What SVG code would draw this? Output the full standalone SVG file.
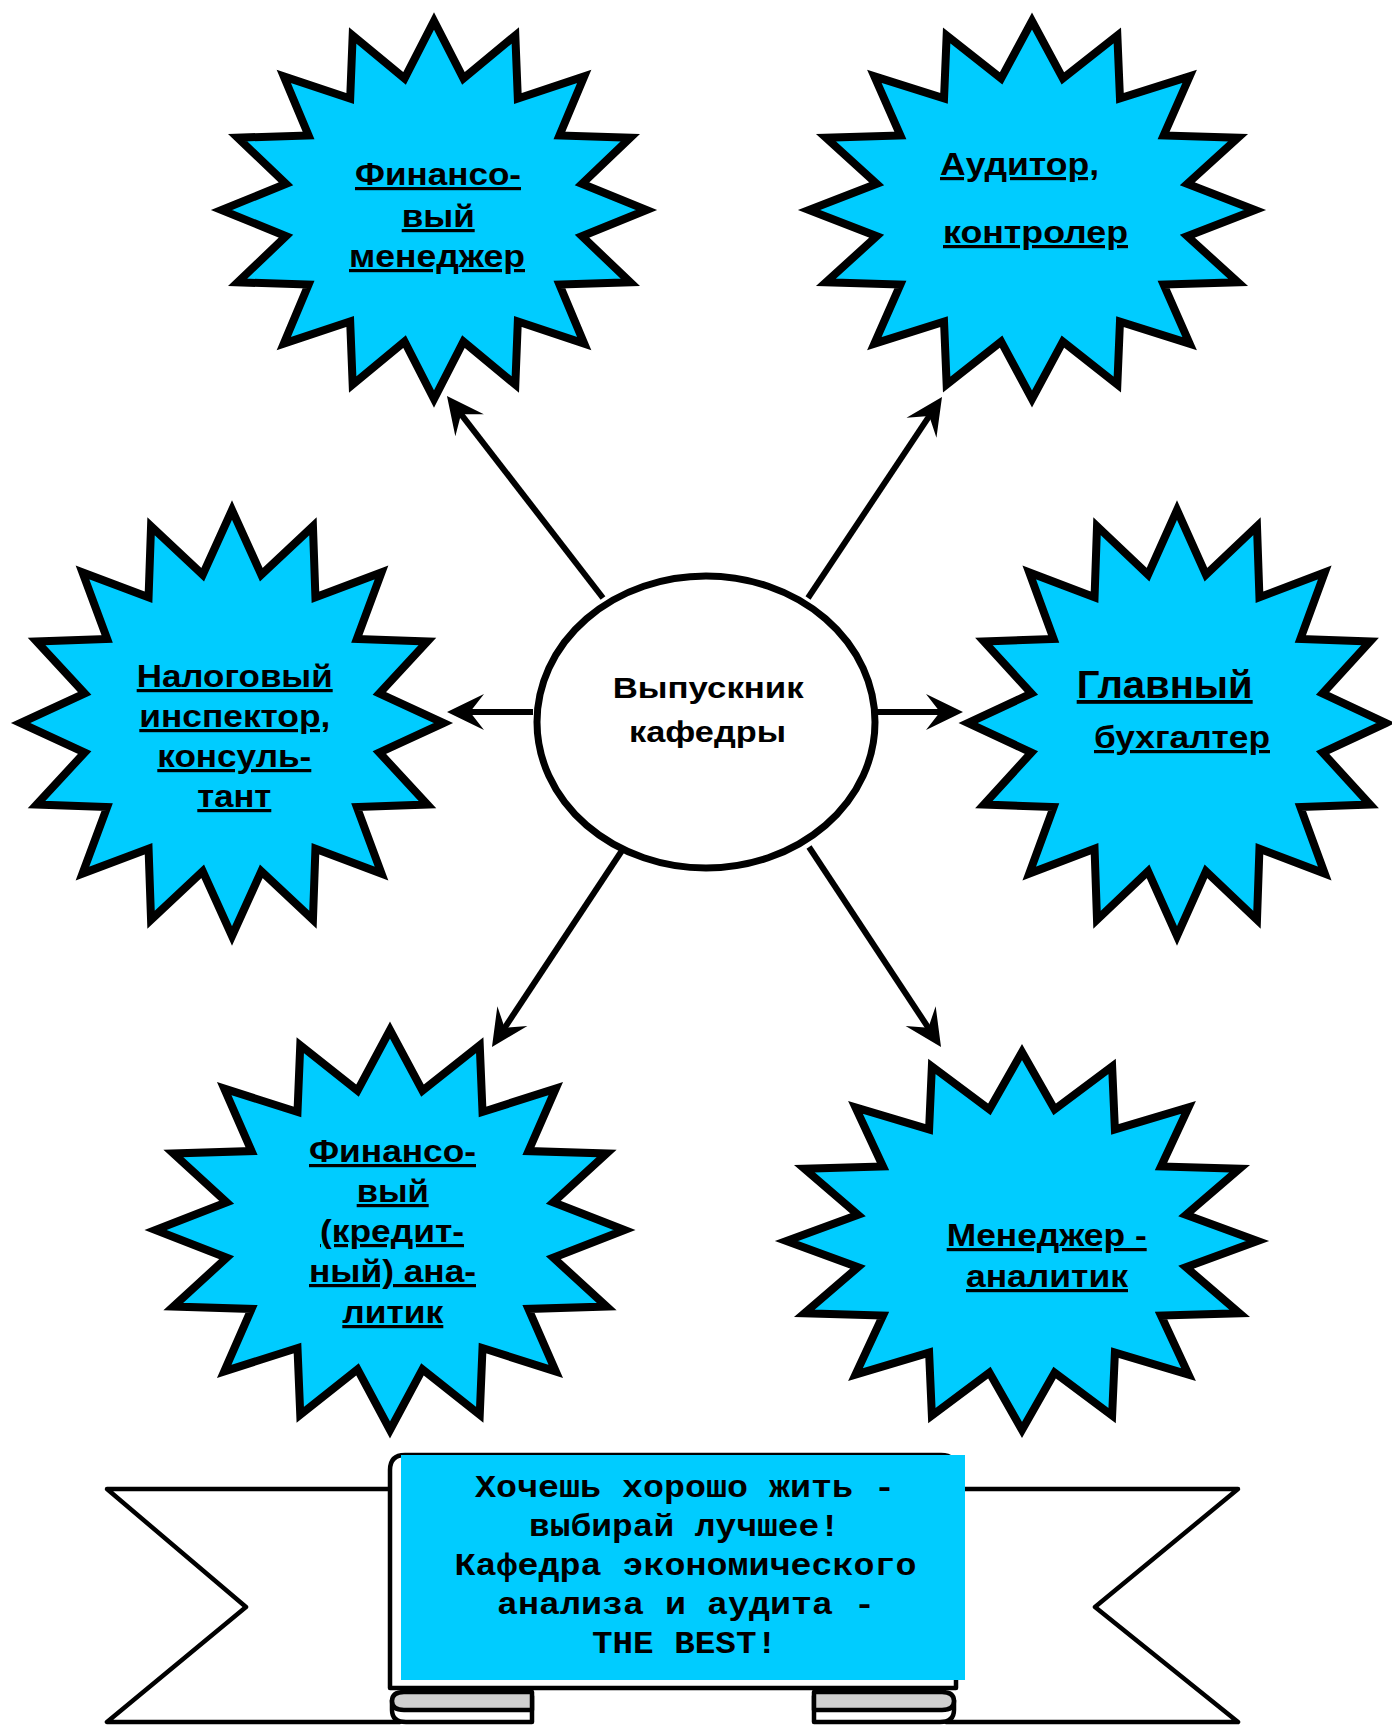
<svg xmlns="http://www.w3.org/2000/svg" xmlns:xlink="http://www.w3.org/1999/xlink" width="1392" height="1726" viewBox="0 0 1392 1726">
  <style>
    .star { fill: #00CCFF; stroke: #000; stroke-width: 8; stroke-linejoin: miter; stroke-miterlimit: 10; vector-effect: non-scaling-stroke; }
    .lbl { font-family: "Liberation Sans", Arial, sans-serif; font-weight: bold; font-size: 32px; fill: #000; text-decoration: underline; text-decoration-thickness: 3px; }
    .big { font-size: 38px; }
    .hub { fill: #fff; stroke: #000; stroke-width: 7; }
    .hubtxt { font-family: "Liberation Sans", Arial, sans-serif; font-weight: bold; font-size: 30px; fill: #000; }
    .conn { fill: none; stroke: #000; stroke-width: 6; marker-end: url(#head); }
    .rb { fill: #fff; stroke: #000; stroke-width: 4.5; stroke-linejoin: round; stroke-linecap: round; }
    .fold { fill: #d0d0d0; stroke: #000; stroke-width: 4.5; stroke-linejoin: round; }
    .motto { font-family: "Liberation Mono", "Courier New", monospace; font-weight: bold; font-size: 32px; fill: #000; }
  </style>
  <defs>
    <!-- 16-point burst on a unit ellipse; each node scales it to its own radii -->
    <polygon id="burst" class="star" points="1,0 0.6964,0.1385 0.9239,0.3827 0.5903,0.3945 0.7071,0.7071 0.3945,0.5903 0.3827,0.9239 0.1385,0.6964 0,1 -0.1385,0.6964 -0.3827,0.9239 -0.3945,0.5903 -0.7071,0.7071 -0.5903,0.3945 -0.9239,0.3827 -0.6964,0.1385 -1,0 -0.6964,-0.1385 -0.9239,-0.3827 -0.5903,-0.3945 -0.7071,-0.7071 -0.3945,-0.5903 -0.3827,-0.9239 -0.1385,-0.6964 0,-1 0.1385,-0.6964 0.3827,-0.9239 0.3945,-0.5903 0.7071,-0.7071 0.5903,-0.3945 0.9239,-0.3827 0.6964,-0.1385"/>
    <!-- barbed arrowhead, tip 20px beyond the line end -->
    <marker id="head" markerUnits="userSpaceOnUse" orient="auto" refX="0" refY="0" markerWidth="1" markerHeight="1" overflow="visible">
      <path d="M20,0 L-17,-18 L-3,0 L-17,18 Z" fill="#000"/>
    </marker>
    <!-- rolled fold under the left edge of the banner panel -->
    <g id="curl">
      <path class="rb" d="M392,1700 L392,1710 Q392,1722 406,1722 L532,1722 L532,1696"/>
      <path class="fold" d="M532,1692 L404,1692 Q392,1692 392,1701 Q392,1710 404,1710 L532,1710 Z"/>
    </g>
  </defs>

  <!-- connectors from the hub to the six roles -->
  <g id="connectors">
    <line class="conn" x1="603" y1="598" x2="459.2" y2="411.8"/>
    <line class="conn" x1="808" y1="598" x2="930.9" y2="413.6"/>
    <line class="conn" x1="533" y1="712" x2="467" y2="712"/>
    <line class="conn" x1="877" y1="712" x2="943" y2="712"/>
    <line class="conn" x1="623" y1="849" x2="503" y2="1030.3"/>
    <line class="conn" x1="809" y1="847" x2="930" y2="1030.3"/>
  </g>

  <g id="hub">
    <ellipse class="hub" cx="706" cy="722" rx="169" ry="146"/>
    <text class="hubtxt" x="612.7" y="698" textLength="191" lengthAdjust="spacingAndGlyphs">Выпускник</text>
    <text class="hubtxt" x="629" y="742" textLength="157" lengthAdjust="spacingAndGlyphs">кафедры</text>
  </g>

  <g id="financial-manager">
    <use xlink:href="#burst" href="#burst" transform="translate(434 210) scale(212.5 189)"/>
    <text class="lbl" x="355" y="185" textLength="166" lengthAdjust="spacingAndGlyphs">Финансо-</text>
    <text class="lbl" x="401.7" y="227" textLength="73" lengthAdjust="spacingAndGlyphs">вый</text>
    <text class="lbl" x="349" y="267" textLength="176" lengthAdjust="spacingAndGlyphs">менеджер</text>
  </g>

  <g id="auditor">
    <use xlink:href="#burst" href="#burst" transform="translate(1032 210) scale(223 189)"/>
    <text class="lbl" x="940" y="175" textLength="159" lengthAdjust="spacingAndGlyphs">Аудитор,</text>
    <text class="lbl" x="943" y="243" textLength="185" lengthAdjust="spacingAndGlyphs">контролер</text>
  </g>

  <g id="tax-inspector">
    <use xlink:href="#burst" href="#burst" transform="translate(232 723) scale(211.5 213)"/>
    <text class="lbl" x="136.7" y="687" textLength="196" lengthAdjust="spacingAndGlyphs">Налоговый</text>
    <text class="lbl" x="139.3" y="727" textLength="191" lengthAdjust="spacingAndGlyphs">инспектор,</text>
    <text class="lbl" x="157.3" y="767" textLength="154" lengthAdjust="spacingAndGlyphs">консуль-</text>
    <text class="lbl" x="197.3" y="807" textLength="74" lengthAdjust="spacingAndGlyphs">тант</text>
  </g>

  <g id="chief-accountant">
    <use xlink:href="#burst" href="#burst" transform="translate(1177 723) scale(209 213)"/>
    <text class="lbl big" x="1076.7" y="698" textLength="176" lengthAdjust="spacingAndGlyphs">Главный</text>
    <text class="lbl" x="1094" y="748" textLength="176" lengthAdjust="spacingAndGlyphs">бухгалтер</text>
  </g>

  <g id="credit-analyst">
    <use xlink:href="#burst" href="#burst" transform="translate(390 1230) scale(234.5 200)"/>
    <text class="lbl" x="309" y="1162" textLength="167" lengthAdjust="spacingAndGlyphs">Финансо-</text>
    <text class="lbl" x="356.7" y="1202" textLength="72" lengthAdjust="spacingAndGlyphs">вый</text>
    <text class="lbl" x="320" y="1242" textLength="144" lengthAdjust="spacingAndGlyphs">(кредит-</text>
    <text class="lbl" x="309" y="1282" textLength="167" lengthAdjust="spacingAndGlyphs">ный) ана-</text>
    <text class="lbl" x="342.3" y="1323" textLength="101" lengthAdjust="spacingAndGlyphs">литик</text>
  </g>

  <g id="manager-analyst">
    <use xlink:href="#burst" href="#burst" transform="translate(1022 1241) scale(235.5 189)"/>
    <text class="lbl" x="946.7" y="1246" textLength="200" lengthAdjust="spacingAndGlyphs">Менеджер -</text>
    <text class="lbl" x="966" y="1287" textLength="162" lengthAdjust="spacingAndGlyphs">аналитик</text>
  </g>

  <!-- banner: swallowtail ends, folds, raised panel -->
  <g id="banner">
    <path class="rb" d="M400,1489 L107,1489 L246,1607 L107,1722 L400,1722"/>
    <path class="rb" d="M946,1489 L1238,1489 L1095,1607 L1238,1722 L946,1722"/>
    <use xlink:href="#curl" href="#curl"/>
    <use xlink:href="#curl" href="#curl" transform="translate(1346 0) scale(-1 1)"/>
    <path class="rb" d="M390,1688 L390,1470 Q390,1455 405,1455 L941,1455 Q956,1455 956,1470 L956,1688 Z"/>
    <rect x="401" y="1455" width="564" height="225" fill="#00CCFF"/>
    <text class="motto" x="475" y="1497" textLength="420" lengthAdjust="spacingAndGlyphs">Хочешь хорошо жить -</text>
    <text class="motto" x="529" y="1536" textLength="311" lengthAdjust="spacingAndGlyphs">выбирай лучшее!</text>
    <text class="motto" x="454.5" y="1575" textLength="462" lengthAdjust="spacingAndGlyphs">Кафедра экономического</text>
    <text class="motto" x="497" y="1614" textLength="378" lengthAdjust="spacingAndGlyphs">анализа и аудита -</text>
    <text class="motto" x="592" y="1653" textLength="185" lengthAdjust="spacingAndGlyphs">THE BEST!</text>
  </g>
</svg>
